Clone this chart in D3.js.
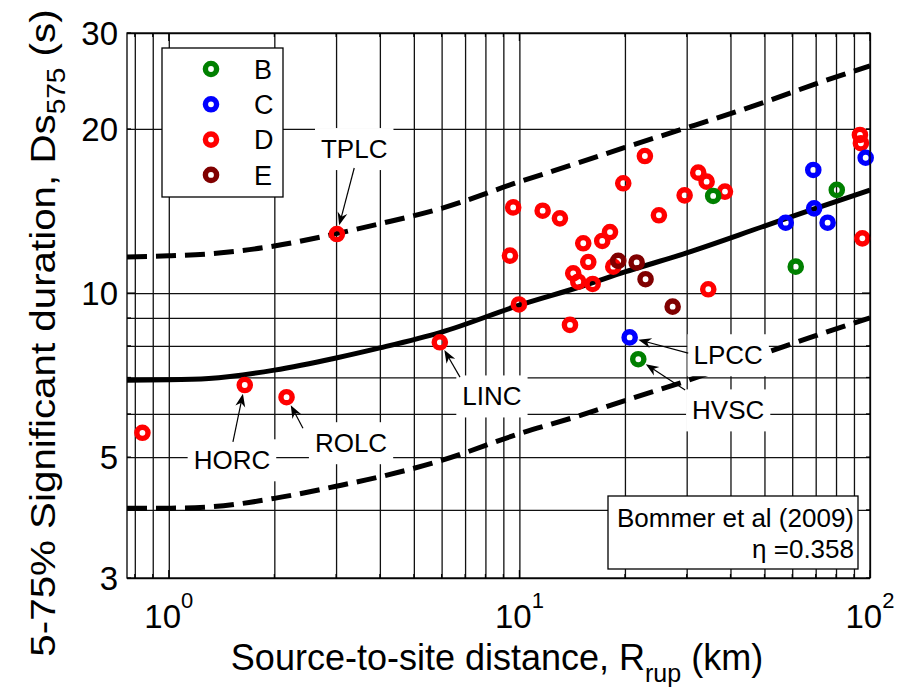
<!DOCTYPE html>
<html><head><meta charset="utf-8">
<script src="https://cdn.jsdelivr.net/npm/d3@7"></script>
<style>body{margin:0;background:#fff}svg{display:block}text{font-family:"Liberation Sans",Arial,Helvetica,sans-serif;fill:#000}</style>
</head><body>
<svg id="c" width="898" height="690"></svg>
<script>
// ---------------- data ----------------
const siteClasses = ["B", "C", "D", "E"];
const classColors = ["#008000", "#0000ff", "#ff0000", "#800000"];

const classB_R = [21.83, 35.7, 61.4, 80.4];
const classB_Ds = [7.56, 15.07, 11.18, 15.46];

const classC_R = [20.63, 57.5, 68.9, 69.3, 75.7, 97.2];
const classC_Ds = [8.29, 13.46, 16.82, 14.30, 13.46, 17.71];

const classD_R = [0.841, 1.647, 2.167, 3.016, 5.93, 9.40, 9.60, 9.97, 11.65, 13.05, 13.94, 14.24, 14.72, 15.21, 15.72,
                  16.18, 17.23, 18.13, 18.52, 19.78, 22.80, 25.0, 29.6, 32.37, 34.2, 34.57, 38.58, 93.6, 94.2, 95.1];
const classD_Ds = [5.54, 6.78, 6.44, 12.83, 8.12, 11.71, 14.36, 9.53, 14.16, 13.71, 8.74, 10.87, 10.49, 12.34, 11.40,
                   10.39, 12.46, 12.94, 11.18, 15.90, 17.84, 13.89, 15.11, 16.63, 16.01, 10.16, 15.35, 19.5, 18.83, 12.60];

const classE_R = [19.14, 21.6, 22.9, 27.36];
const classE_Ds = [11.46, 11.38, 10.60, 9.44];

// Bommer et al (2009) prediction, median and +/- bounds
const modelR = [0.76, 1, 1.3, 2, 3, 4, 6, 10, 15, 20, 30, 50, 70, 100];
const modelMedian = [6.92, 6.93, 6.97, 7.22, 7.6, 7.93, 8.48, 9.5, 10.28, 10.93, 11.85, 13.27, 14.3, 15.45];
const modelUpper = [11.65, 11.7, 11.8, 12.2, 12.85, 13.4, 14.3, 16.0, 17.4, 18.5, 20.1, 22.4, 24.2, 26.1];
const modelLower = [4.03, 4.03, 4.05, 4.2, 4.42, 4.6, 4.93, 5.52, 5.97, 6.35, 6.9, 7.75, 8.35, 9.0];

// annotated stations
const annoNames = ["TPLC", "HORC", "ROLC", "LINC", "LPCC", "HVSC"];
const annoTargetR = [3.016, 1.647, 2.167, 5.93, 20.63, 21.83];
const annoTargetDs = [12.83, 6.78, 6.44, 8.12, 8.29, 7.56];
const annoTextR = [3.38, 1.514, 3.31, 8.35, 39.4, 39.4];
const annoTextDs = [18.4, 4.94, 5.31, 6.47, 7.70, 6.10];
const annoTailR = [3.38, 1.524, 2.414, 6.77, 30.3, 29.7];
const annoTailDs = [16.96, 5.33, 5.65, 7.01, 7.76, 6.64];

const xTickLabels = [1, 10, 100];
const xTickExp = ["0", "1", "2"];
const yTickLabels = [3, 5, 10, 20, 30];
const xGridTicks = [0.8, 0.9, 1, 2, 3, 4, 5, 6, 7, 8, 9, 10, 20, 30, 40, 50, 60, 70, 80, 90, 100];
const yGridTicks = [3, 4, 5, 6, 7, 8, 9, 10, 20, 30];

const modelTitle = "Bommer et al (2009)";
const modelEta = "\u03b7 =0.358";

// ---------------- layout ----------------
const L = 127, R = 870, T = 33, B = 578;
const svg = d3.select("#c");
const x = d3.scaleLog().domain([0.76, 100]).range([L, R]);
const y = d3.scaleLog().domain([3, 30]).range([B, T]);

// grid via axes
svg.append("g").attr("transform", `translate(0,${B})`)
  .call(d3.axisBottom(x).tickValues(xGridTicks).tickSize(-(B - T)).tickFormat(""))
  .call(g => g.select(".domain").remove())
  .call(g => g.selectAll("line").attr("stroke", "#111").attr("stroke-width", 1.3));
svg.append("g").attr("transform", `translate(${L},0)`)
  .call(d3.axisLeft(y).tickValues(yGridTicks).tickSize(-(R - L)).tickFormat(""))
  .call(g => g.select(".domain").remove())
  .call(g => g.selectAll("line").attr("stroke", "#111").attr("stroke-width", 1.3));

// inner ticks
const tk = svg.append("g").attr("stroke", "#000").attr("stroke-width", 1.2);
xGridTicks.forEach(v => {
  const len = [1, 10, 100].includes(v) ? 8 : 4;
  tk.append("line").attr("x1", x(v)).attr("x2", x(v)).attr("y1", B).attr("y2", B - len);
  tk.append("line").attr("x1", x(v)).attr("x2", x(v)).attr("y1", T).attr("y2", T + len);
});
yGridTicks.forEach(v => {
  const len = [10].includes(v) ? 8 : 4;
  tk.append("line").attr("y1", y(v)).attr("y2", y(v)).attr("x1", L).attr("x2", L + len);
  tk.append("line").attr("y1", y(v)).attr("y2", y(v)).attr("x1", R).attr("x2", R - len);
});

// model curves
const line = d3.line().x(d => x(d[0])).y(d => y(d[1])).curve(d3.curveMonotoneX);
svg.append("clipPath").attr("id", "pc").append("rect")
  .attr("x", L).attr("y", T).attr("width", R - L).attr("height", B - T);
const curves = svg.append("g").attr("clip-path", "url(#pc)");
curves.append("path").datum(modelR.map((r, i) => [r, modelMedian[i]])).attr("d", line)
  .attr("fill", "none").attr("stroke", "#000").attr("stroke-width", 5);
[modelUpper, modelLower].forEach(arr => {
  curves.append("path").datum(modelR.map((r, i) => [r, arr[i]])).attr("d", line)
    .attr("fill", "none").attr("stroke", "#000").attr("stroke-width", 5)
    .attr("stroke-dasharray", "20,9");
});

// points
const seriesR = [classB_R, classC_R, classD_R, classE_R];
const seriesDs = [classB_Ds, classC_Ds, classD_Ds, classE_Ds];
const pts = svg.append("g");
[2, 3, 1, 0].forEach(k => {
  seriesR[k].forEach((r, i) => {
    pts.append("circle").attr("cx", x(r)).attr("cy", y(seriesDs[k][i])).attr("r", 5.6)
      .attr("fill", "none").attr("stroke", classColors[k]).attr("stroke-width", 5.4);
  });
});

// annotations
const an = svg.append("g");
annoNames.forEach((name, i) => {
  const tx = x(annoTextR[i]), ty = y(annoTextDs[i]);
  const gg = an.append("g");
  const rect = gg.append("rect").attr("fill", "#fff");
  const t = gg.append("text").attr("x", tx).attr("y", ty).attr("dy", "0.36em")
    .attr("text-anchor", "middle").attr("font-size", 26).text(name);
  const bb = t.node().getBBox();
  rect.attr("x", bb.x - 6).attr("y", bb.y - 6).attr("width", bb.width + 12).attr("height", bb.height + 12);
  const sx = x(annoTailR[i]), sy = y(annoTailDs[i]);
  const px = x(annoTargetR[i]), py = y(annoTargetDs[i]);
  const dx = px - sx, dy = py - sy, len = Math.hypot(dx, dy);
  const ux = dx / len, uy = dy / len, nx = -uy, ny = ux;
  const ex = px - ux * 9, ey = py - uy * 9;
  an.append("line").attr("x1", sx).attr("y1", sy).attr("x2", ex - ux * 6).attr("y2", ey - uy * 6)
    .attr("stroke", "#000").attr("stroke-width", 1.2);
  const head = [[ex, ey], [ex - ux * 13 + nx * 5, ey - uy * 13 + ny * 5], [ex - ux * 9, ey - uy * 9],
                [ex - ux * 13 - nx * 5, ey - uy * 13 - ny * 5]];
  an.append("path").attr("d", "M" + head.map(p => p.join(",")).join("L") + "Z").attr("fill", "#000");
});

// axes box
svg.append("rect").attr("x", L).attr("y", T).attr("width", R - L).attr("height", B - T)
  .attr("fill", "none").attr("stroke", "#000").attr("stroke-width", 1.3);

// legend
const lg = svg.append("g");
lg.append("rect").attr("x", 162).attr("y", 48).attr("width", 121).attr("height", 149)
  .attr("fill", "#fff").attr("stroke", "#000").attr("stroke-width", 1.3);
siteClasses.forEach((c, i) => {
  const cy = 69 + i * 35.3;
  lg.append("circle").attr("cx", 211).attr("cy", cy).attr("r", 5.6).attr("fill", "none")
    .attr("stroke", classColors[i]).attr("stroke-width", 5.4);
  lg.append("text").attr("x", 254).attr("y", cy).attr("dy", "0.36em").attr("font-size", 27).text(c);
});

// model box
const mb = svg.append("g");
mb.append("rect").attr("x", 608).attr("y", 496).attr("width", 250).attr("height", 73)
  .attr("fill", "#fff").attr("stroke", "#000").attr("stroke-width", 1.3);
mb.append("text").attr("x", 854).attr("y", 527).attr("text-anchor", "end").attr("font-size", 26).text(modelTitle);
mb.append("text").attr("x", 854).attr("y", 558).attr("text-anchor", "end").attr("font-size", 26).text(modelEta);

// tick labels
xTickLabels.forEach((v, i) => {
  const t = svg.append("text").attr("x", x(v)).attr("y", 628).attr("text-anchor", "middle").attr("font-size", 33);
  t.append("tspan").text("10");
  t.append("tspan").attr("dy", -20).attr("font-size", 22).text(xTickExp[i]);
});
yTickLabels.forEach(v => {
  svg.append("text").attr("x", 118).attr("y", y(v)).attr("dy", "0.36em").attr("text-anchor", "end")
    .attr("font-size", 33).text(v);
});

// axis labels
const xl = svg.append("text").attr("x", 497).attr("y", 670).attr("text-anchor", "middle").attr("font-size", 36);
xl.append("tspan").text("Source-to-site distance, R");
xl.append("tspan").attr("dy", 12).attr("font-size", 25).text("rup");
xl.append("tspan").attr("dy", -12).text(" (km)");

const yl = svg.append("text").attr("transform", "translate(55,333) rotate(-90) scale(1.12,1)")
  .attr("text-anchor", "middle").attr("font-size", 36);
yl.append("tspan").text("5-75% Significant duration, Ds");
yl.append("tspan").attr("dy", 10).attr("font-size", 25).text("575");
yl.append("tspan").attr("dy", -10).text(" (s)");
</script>
</body></html>
